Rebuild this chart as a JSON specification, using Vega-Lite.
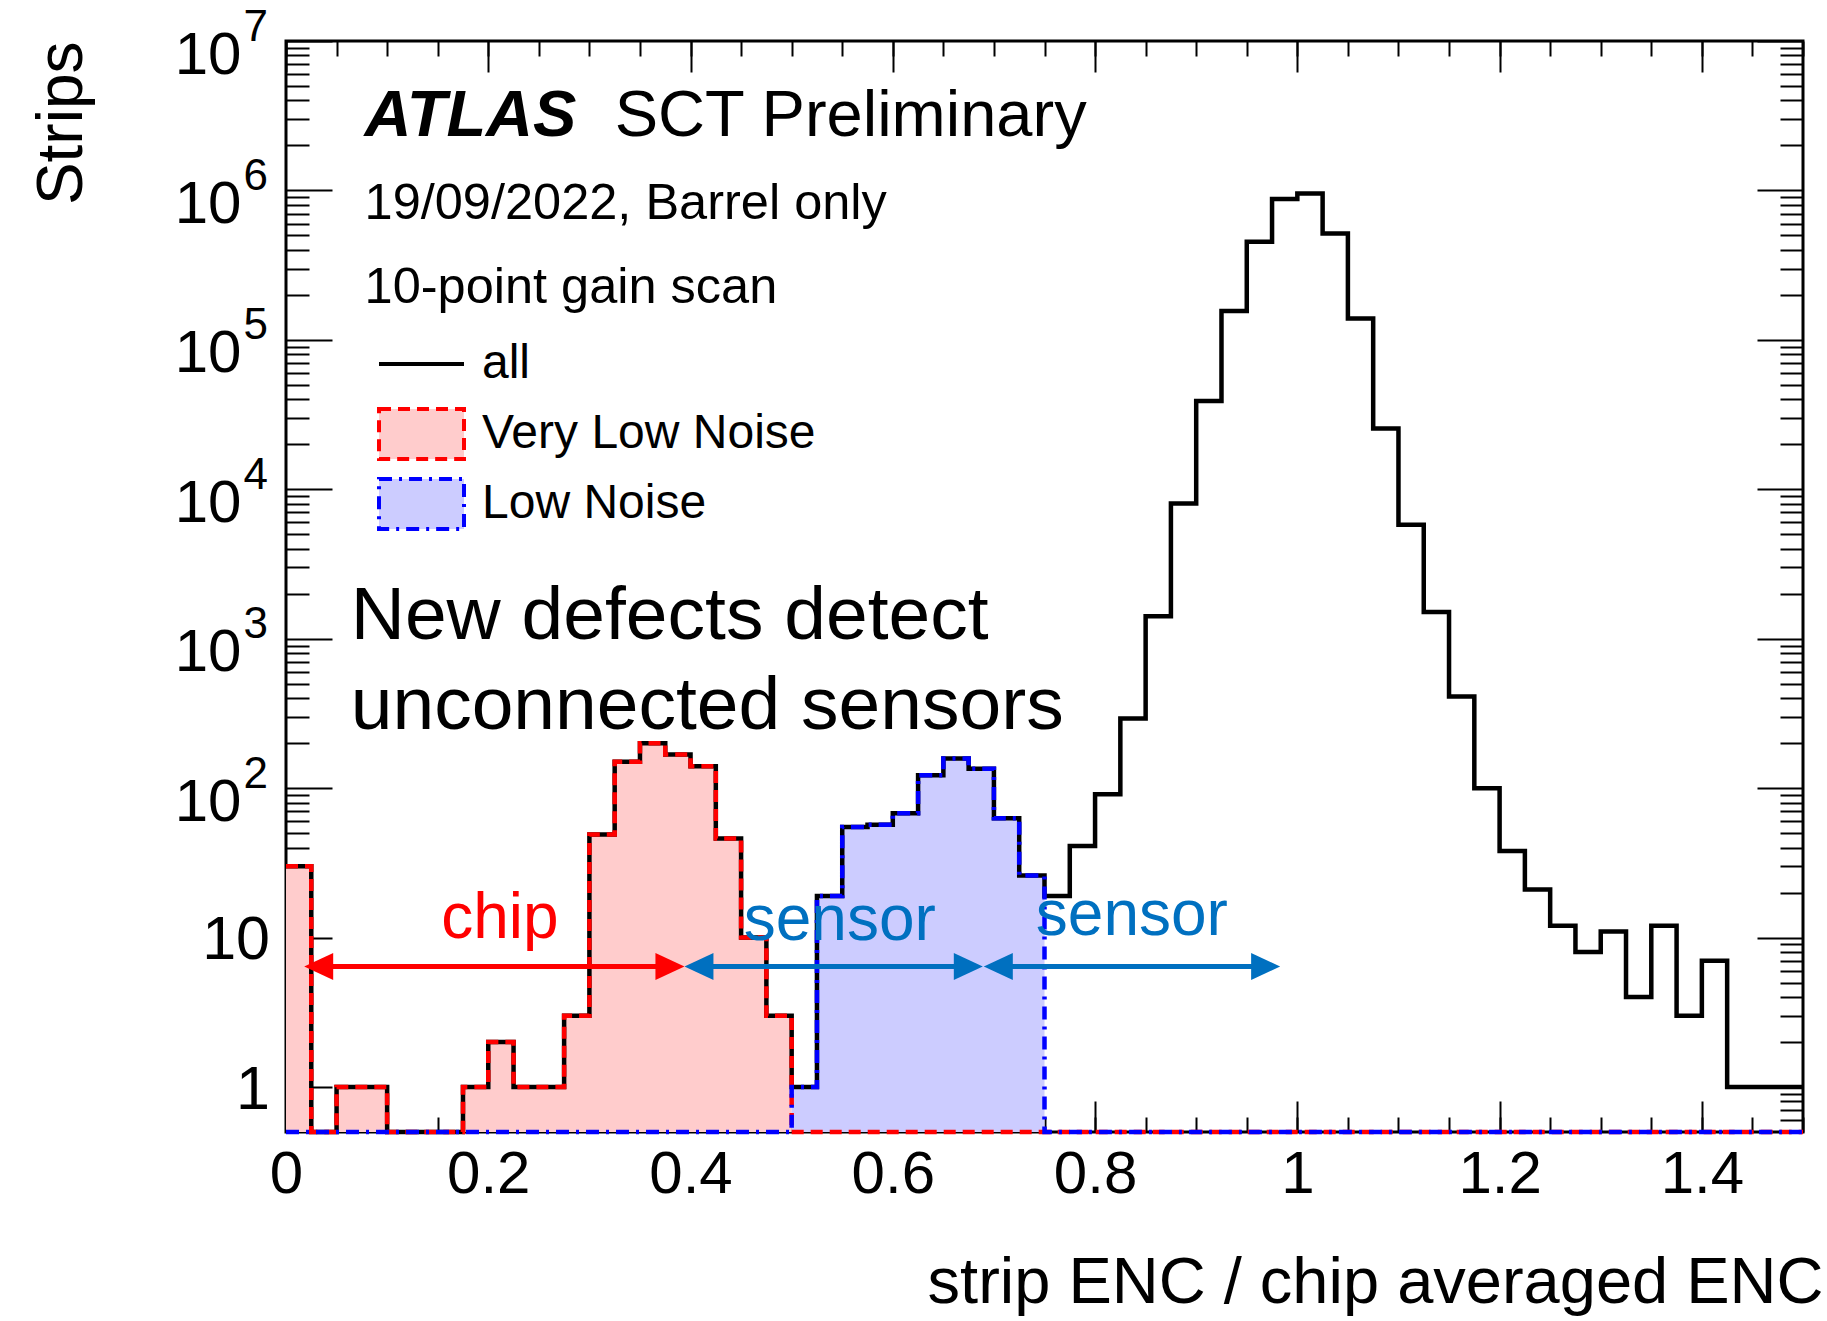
{
  "$schema": "https://vega.github.io/schema/vega-lite/v6.json",
  "width": 1517,
  "height": 1091,
  "autosize": {"type": "none"},
  "padding": {"left": 286, "top": 41, "right": 24, "bottom": 189},
  "background": "white",
  "config": {
    "font": "Liberation Sans",
    "view": {"stroke": "black", "strokeWidth": 3},
    "axis": {"domain": false, "grid": false, "labels": false, "tickColor": "black", "tickWidth": 2, "labelColor": "black", "labelFont": "Liberation Sans", "titleColor": "black", "titleFont": "Liberation Sans", "titleFontWeight": "normal", "labelFlush": false, "labelOverlap": false, "zindex": 1}
  },
  "datasets": {
    "hist": [
      {"lo": 0, "all": 30, "Very Low Noise": 30, "Low Noise": 0},
      {"lo": 0.025, "all": 0, "Very Low Noise": 0, "Low Noise": 0},
      {"lo": 0.05, "all": 1, "Very Low Noise": 1, "Low Noise": 0},
      {"lo": 0.075, "all": 1, "Very Low Noise": 1, "Low Noise": 0},
      {"lo": 0.1, "all": 0, "Very Low Noise": 0, "Low Noise": 0},
      {"lo": 0.125, "all": 0, "Very Low Noise": 0, "Low Noise": 0},
      {"lo": 0.15, "all": 0, "Very Low Noise": 0, "Low Noise": 0},
      {"lo": 0.175, "all": 1, "Very Low Noise": 1, "Low Noise": 0},
      {"lo": 0.2, "all": 2, "Very Low Noise": 2, "Low Noise": 0},
      {"lo": 0.225, "all": 1, "Very Low Noise": 1, "Low Noise": 0},
      {"lo": 0.25, "all": 1, "Very Low Noise": 1, "Low Noise": 0},
      {"lo": 0.275, "all": 3, "Very Low Noise": 3, "Low Noise": 0},
      {"lo": 0.3, "all": 49, "Very Low Noise": 49, "Low Noise": 0},
      {"lo": 0.325, "all": 150, "Very Low Noise": 150, "Low Noise": 0},
      {"lo": 0.35, "all": 200, "Very Low Noise": 200, "Low Noise": 0},
      {"lo": 0.375, "all": 168, "Very Low Noise": 168, "Low Noise": 0},
      {"lo": 0.4, "all": 140, "Very Low Noise": 140, "Low Noise": 0},
      {"lo": 0.425, "all": 46, "Very Low Noise": 46, "Low Noise": 0},
      {"lo": 0.45, "all": 10, "Very Low Noise": 10, "Low Noise": 0},
      {"lo": 0.475, "all": 3, "Very Low Noise": 3, "Low Noise": 0},
      {"lo": 0.5, "all": 1, "Very Low Noise": 0, "Low Noise": 1},
      {"lo": 0.525, "all": 19, "Very Low Noise": 0, "Low Noise": 19},
      {"lo": 0.55, "all": 55, "Very Low Noise": 0, "Low Noise": 55},
      {"lo": 0.575, "all": 57, "Very Low Noise": 0, "Low Noise": 57},
      {"lo": 0.6, "all": 68, "Very Low Noise": 0, "Low Noise": 68},
      {"lo": 0.625, "all": 122, "Very Low Noise": 0, "Low Noise": 122},
      {"lo": 0.65, "all": 158, "Very Low Noise": 0, "Low Noise": 158},
      {"lo": 0.675, "all": 135, "Very Low Noise": 0, "Low Noise": 135},
      {"lo": 0.7, "all": 63, "Very Low Noise": 0, "Low Noise": 63},
      {"lo": 0.725, "all": 26, "Very Low Noise": 0, "Low Noise": 26},
      {"lo": 0.75, "all": 19, "Very Low Noise": 0, "Low Noise": 0},
      {"lo": 0.775, "all": 41, "Very Low Noise": 0, "Low Noise": 0},
      {"lo": 0.8, "all": 91, "Very Low Noise": 0, "Low Noise": 0},
      {"lo": 0.825, "all": 293, "Very Low Noise": 0, "Low Noise": 0},
      {"lo": 0.85, "all": 1414, "Very Low Noise": 0, "Low Noise": 0},
      {"lo": 0.875, "all": 8040, "Very Low Noise": 0, "Low Noise": 0},
      {"lo": 0.9, "all": 39000, "Very Low Noise": 0, "Low Noise": 0},
      {"lo": 0.925, "all": 156000, "Very Low Noise": 0, "Low Noise": 0},
      {"lo": 0.95, "all": 454000, "Very Low Noise": 0, "Low Noise": 0},
      {"lo": 0.975, "all": 877000, "Very Low Noise": 0, "Low Noise": 0},
      {"lo": 1, "all": 953000, "Very Low Noise": 0, "Low Noise": 0},
      {"lo": 1.025, "all": 514000, "Very Low Noise": 0, "Low Noise": 0},
      {"lo": 1.05, "all": 139000, "Very Low Noise": 0, "Low Noise": 0},
      {"lo": 1.075, "all": 25500, "Very Low Noise": 0, "Low Noise": 0},
      {"lo": 1.1, "all": 5780, "Very Low Noise": 0, "Low Noise": 0},
      {"lo": 1.125, "all": 1510, "Very Low Noise": 0, "Low Noise": 0},
      {"lo": 1.15, "all": 410, "Very Low Noise": 0, "Low Noise": 0},
      {"lo": 1.175, "all": 100, "Very Low Noise": 0, "Low Noise": 0},
      {"lo": 1.2, "all": 38, "Very Low Noise": 0, "Low Noise": 0},
      {"lo": 1.225, "all": 21, "Very Low Noise": 0, "Low Noise": 0},
      {"lo": 1.25, "all": 12, "Very Low Noise": 0, "Low Noise": 0},
      {"lo": 1.275, "all": 8, "Very Low Noise": 0, "Low Noise": 0},
      {"lo": 1.3, "all": 11, "Very Low Noise": 0, "Low Noise": 0},
      {"lo": 1.325, "all": 4, "Very Low Noise": 0, "Low Noise": 0},
      {"lo": 1.35, "all": 12, "Very Low Noise": 0, "Low Noise": 0},
      {"lo": 1.375, "all": 3, "Very Low Noise": 0, "Low Noise": 0},
      {"lo": 1.4, "all": 7, "Very Low Noise": 0, "Low Noise": 0},
      {"lo": 1.425, "all": 1, "Very Low Noise": 0, "Low Noise": 0},
      {"lo": 1.45, "all": 1, "Very Low Noise": 0, "Low Noise": 0},
      {"lo": 1.475, "all": 1, "Very Low Noise": 0, "Low Noise": 0},
      {"lo": 1.5, "all": 1, "Very Low Noise": 0, "Low Noise": 0}
    ]
  },
  "data": {"name": "hist"},
  "resolve": {"scale": {"x": "shared", "y": "shared"}, "axis": {"x": "independent", "y": "independent"}},
  "layer": [
    {
      "mark": {"type": "area", "interpolate": "step-after", "color": "#ffcccc", "invalid": null},
      "encoding": {
        "x": {"field": "lo", "type": "quantitative", "scale": {"domain": [0, 1.5], "nice": false, "zero": false},
          "axis": {"orient": "bottom", "values": [0, 0.2, 0.4, 0.6, 0.8, 1, 1.2, 1.4], "format": "~g", "tickSize": -31, "labels": true, "labelFontSize": 60, "labelPadding": 44.6, "labelBaseline": "top", "title": "strip ENC / chip averaged ENC", "titleFontSize": 65, "titleX": 1537, "titleY": 170, "titleAlign": "right", "titleBaseline": "alphabetic", "titleAnchor": "end"}},
        "y": {"field": "Very Low Noise", "type": "quantitative", "scale": {"type": "log", "domain": [0.5, 10000000], "nice": false, "clamp": true},
          "axis": {"orient": "left", "values": [1, 10, 100, 1000, 10000, 100000, 1000000, 10000000], "tickSize": -46, "labels": true, "labelExpr": "datum.value >= 10 ? '10' : '1'",
            "labelFontSize": {"condition": {"test": "datum.value >= 100", "value": 60}, "value": 61},
            "labelPadding": {"condition": {"test": "datum.value >= 100", "value": 91}, "value": 62.5},
            "labelOffset": {"condition": {"test": "datum.value >= 100", "value": 14}, "value": 3},
            "labelAlign": "right", "labelBaseline": "middle",
            "title": "Strips", "titleFontSize": 64, "titleAngle": -90, "titleX": -192, "titleY": 0, "titleAlign": "right", "titleBaseline": "bottom"}},
        "y2": {"datum": 0.5}
      }
    },
    {
      "mark": {"type": "area", "interpolate": "step-after", "color": "#ccccff", "invalid": null},
      "encoding": {
        "x": {"field": "lo", "type": "quantitative", "scale": {"domain": [0, 1.5], "nice": false, "zero": false},
          "axis": {"orient": "bottom", "values": [0, 0.05, 0.1, 0.15, 0.2, 0.25, 0.3, 0.35, 0.4, 0.45, 0.5, 0.55, 0.6, 0.65, 0.7, 0.75, 0.8, 0.85, 0.9, 0.95, 1, 1.05, 1.1, 1.15, 1.2, 1.25, 1.3, 1.35, 1.4, 1.45, 1.5], "tickSize": -15, "title": null}},
        "y": {"field": "Low Noise", "type": "quantitative", "scale": {"type": "log", "domain": [0.5, 10000000], "nice": false, "clamp": true},
          "axis": {"orient": "left", "values": [0.6, 0.7, 0.8, 0.9, 2, 3, 4, 5, 6, 7, 8, 9, 20, 30, 40, 50, 60, 70, 80, 90, 200, 300, 400, 500, 600, 700, 800, 900, 2000, 3000, 4000, 5000, 6000, 7000, 8000, 9000, 20000, 30000, 40000, 50000, 60000, 70000, 80000, 90000, 200000, 300000, 400000, 500000, 600000, 700000, 800000, 900000, 2000000, 3000000, 4000000, 5000000, 6000000, 7000000, 8000000, 9000000], "tickSize": -23, "title": null}},
        "y2": {"datum": 0.5}
      }
    },
    {
      "transform": [{"fold": ["all", "Very Low Noise", "Low Noise"], "as": ["series", "count"]}, {"filter": "datum.series === 'all'"}],
      "mark": {"type": "line", "interpolate": "step-after", "strokeWidth": 4.5, "invalid": null},
      "encoding": {
        "x": {"field": "lo", "type": "quantitative", "scale": {"domain": [0, 1.5], "nice": false, "zero": false},
          "axis": {"orient": "top", "values": [0, 0.2, 0.4, 0.6, 0.8, 1, 1.2, 1.4], "tickSize": -31, "title": null}},
        "y": {"field": "count", "type": "quantitative", "scale": {"type": "log", "domain": [0.5, 10000000], "nice": false, "clamp": true},
          "axis": {"orient": "right", "values": [1, 10, 100, 1000, 10000, 100000, 1000000, 10000000], "tickSize": -46, "title": null}},
        "color": {"field": "series", "type": "nominal",
          "scale": {"domain": ["all", "Very Low Noise", "Low Noise"], "range": ["#000000", "#ff0000", "#0000ff"]},
          "legend": {"orient": "none", "legendX": 91, "legendY": 296, "title": null, "padding": 0, "labelFont": "Liberation Sans", "labelFontSize": 48, "labelColor": "black", "labelOffset": 16, "labelLimit": 800, "symbolSize": 7225, "symbolStrokeWidth": 4, "clipHeight": 54, "rowPadding": 16,
            "encoding": {"symbols": {
              "shape": {"condition": {"test": "datum.value === 'all'", "value": "stroke"}, "value": "M-1,-0.59H1V0.59H-1Z"},
              "fill": {"condition": [{"test": "datum.value === 'Very Low Noise'", "value": "#ffcccc"}, {"test": "datum.value === 'Low Noise'", "value": "#ccccff"}], "value": "transparent"},
              "strokeDash": {"condition": [{"test": "datum.value === 'Very Low Noise'", "value": [12, 7]}, {"test": "datum.value === 'Low Noise'", "value": [13, 7, 3, 7]}], "value": [1, 0]},
              "fillOpacity": {"value": 1},
              "opacity": {"value": 1}
            }}}}
      }
    },
    {
      "transform": [{"fold": ["all", "Very Low Noise", "Low Noise"], "as": ["series", "count"]}, {"filter": "datum.series === 'Very Low Noise'"}],
      "mark": {"type": "line", "interpolate": "step-after", "strokeWidth": 4.5, "strokeDash": [12, 7], "invalid": null},
      "encoding": {
        "x": {"field": "lo", "type": "quantitative", "scale": {"domain": [0, 1.5], "nice": false, "zero": false},
          "axis": {"orient": "top", "values": [0, 0.05, 0.1, 0.15, 0.2, 0.25, 0.3, 0.35, 0.4, 0.45, 0.5, 0.55, 0.6, 0.65, 0.7, 0.75, 0.8, 0.85, 0.9, 0.95, 1, 1.05, 1.1, 1.15, 1.2, 1.25, 1.3, 1.35, 1.4, 1.45, 1.5], "tickSize": -15, "title": null}},
        "y": {"field": "count", "type": "quantitative", "scale": {"type": "log", "domain": [0.5, 10000000], "nice": false, "clamp": true},
          "axis": {"orient": "right", "values": [0.6, 0.7, 0.8, 0.9, 2, 3, 4, 5, 6, 7, 8, 9, 20, 30, 40, 50, 60, 70, 80, 90, 200, 300, 400, 500, 600, 700, 800, 900, 2000, 3000, 4000, 5000, 6000, 7000, 8000, 9000, 20000, 30000, 40000, 50000, 60000, 70000, 80000, 90000, 200000, 300000, 400000, 500000, 600000, 700000, 800000, 900000, 2000000, 3000000, 4000000, 5000000, 6000000, 7000000, 8000000, 9000000], "tickSize": -23, "title": null}},
        "color": {"field": "series", "type": "nominal", "scale": {"domain": ["all", "Very Low Noise", "Low Noise"], "range": ["#000000", "#ff0000", "#0000ff"]}, "legend": null}
      }
    },
    {
      "transform": [{"fold": ["all", "Very Low Noise", "Low Noise"], "as": ["series", "count"]}, {"filter": "datum.series === 'Low Noise'"}],
      "mark": {"type": "line", "interpolate": "step-after", "strokeWidth": 4.5, "strokeDash": [13, 7, 3, 7], "invalid": null},
      "encoding": {
        "x": {"field": "lo", "type": "quantitative", "scale": {"domain": [0, 1.5], "nice": false, "zero": false}, "axis": null},
        "y": {"field": "count", "type": "quantitative", "scale": {"type": "log", "domain": [0.5, 10000000], "nice": false, "clamp": true},
          "axis": {"orient": "left", "values": [100, 1000, 10000, 100000, 1000000, 10000000], "ticks": false, "tickSize": 0, "labels": true, "labelExpr": "'' + round(log(datum.value) / LN10)", "labelFontSize": 44, "labelPadding": 18.5, "labelOffset": -14, "labelAlign": "right", "labelBaseline": "middle", "title": null}},
        "color": {"field": "series", "type": "nominal", "scale": {"domain": ["all", "Very Low Noise", "Low Noise"], "range": ["#000000", "#ff0000", "#0000ff"]}, "legend": null}
      }
    },
    {
      "data": {"values": [{}]},
      "mark": {"type": "text", "text": "ATLAS", "fontSize": 65, "fontWeight": "bold", "fontStyle": "italic", "align": "left", "baseline": "alphabetic", "color": "black"},
      "encoding": {
        "x": {"datum": 0.0777, "type": "quantitative", "axis": null},
        "y": {"datum": 2296000, "type": "quantitative", "axis": null}
      }
    },
    {
      "data": {"values": [{}]},
      "mark": {"type": "text", "text": "SCT Preliminary", "fontSize": 65, "align": "left", "baseline": "alphabetic", "color": "black"},
      "encoding": {
        "x": {"datum": 0.325, "type": "quantitative", "axis": null},
        "y": {"datum": 2296000, "type": "quantitative", "axis": null}
      }
    },
    {
      "data": {"values": [{}]},
      "mark": {"type": "text", "text": "19/09/2022, Barrel only", "fontSize": 50.5, "align": "left", "baseline": "alphabetic", "color": "black"},
      "encoding": {
        "x": {"datum": 0.0777, "type": "quantitative", "axis": null},
        "y": {"datum": 644000, "type": "quantitative", "axis": null}
      }
    },
    {
      "data": {"values": [{}]},
      "mark": {"type": "text", "text": "10-point gain scan", "fontSize": 50.5, "align": "left", "baseline": "alphabetic", "color": "black"},
      "encoding": {
        "x": {"datum": 0.0777, "type": "quantitative", "axis": null},
        "y": {"datum": 176600, "type": "quantitative", "axis": null}
      }
    },
    {
      "data": {"values": [{}]},
      "mark": {"type": "text", "text": ["New defects detect", "unconnected sensors"], "lineHeight": 90, "fontSize": 75, "align": "left", "baseline": "alphabetic", "color": "black"},
      "encoding": {
        "x": {"datum": 0.064, "type": "quantitative", "axis": null},
        "y": {"datum": 995, "type": "quantitative", "axis": null}
      }
    },
    {
      "data": {"values": [{}]},
      "mark": {"type": "text", "text": "chip", "fontSize": 64, "align": "left", "baseline": "alphabetic", "color": "#ff0000"},
      "encoding": {
        "x": {"datum": 0.1534, "type": "quantitative", "axis": null},
        "y": {"datum": 9.93, "type": "quantitative", "axis": null}
      }
    },
    {
      "data": {"values": [{}]},
      "mark": {"type": "text", "text": "sensor", "fontSize": 64, "align": "left", "baseline": "alphabetic", "color": "#0070c0"},
      "encoding": {
        "x": {"datum": 0.4526, "type": "quantitative", "axis": null},
        "y": {"datum": 9.63, "type": "quantitative", "axis": null}
      }
    },
    {
      "data": {"values": [{}]},
      "mark": {"type": "text", "text": "sensor", "fontSize": 64, "align": "left", "baseline": "alphabetic", "color": "#0070c0"},
      "encoding": {
        "x": {"datum": 0.7414, "type": "quantitative", "axis": null},
        "y": {"datum": 10.4, "type": "quantitative", "axis": null}
      }
    },
    {
      "data": {"values": [{}]},
      "mark": {"type": "rule", "color": "#ff0000", "strokeWidth": 5},
      "encoding": {
        "x": {"datum": 0.03, "type": "quantitative", "axis": null},
        "x2": {"datum": 0.382},
        "y": {"datum": 6.4, "type": "quantitative", "axis": null}
      }
    },
    {
      "data": {"values": [{}]},
      "mark": {"type": "rule", "color": "#0070c0", "strokeWidth": 5},
      "encoding": {
        "x": {"datum": 0.405, "type": "quantitative", "axis": null},
        "x2": {"datum": 0.678},
        "y": {"datum": 6.4, "type": "quantitative", "axis": null}
      }
    },
    {
      "data": {"values": [{}]},
      "mark": {"type": "rule", "color": "#0070c0", "strokeWidth": 5},
      "encoding": {
        "x": {"datum": 0.701, "type": "quantitative", "axis": null},
        "x2": {"datum": 0.972},
        "y": {"datum": 6.4, "type": "quantitative", "axis": null}
      }
    },
    {
      "data": {"values": [{}]},
      "mark": {"type": "point", "shape": "M0,0L2,-0.93L2,0.93Z", "size": 841, "filled": true, "color": "#ff0000", "opacity": 1, "strokeWidth": 0},
      "encoding": {
        "x": {"datum": 0.018, "type": "quantitative", "axis": null},
        "y": {"datum": 6.4, "type": "quantitative", "axis": null}
      }
    },
    {
      "data": {"values": [{}]},
      "mark": {"type": "point", "shape": "M0,0L-2,-0.93L-2,0.93Z", "size": 841, "filled": true, "color": "#ff0000", "opacity": 1, "strokeWidth": 0},
      "encoding": {
        "x": {"datum": 0.394, "type": "quantitative", "axis": null},
        "y": {"datum": 6.4, "type": "quantitative", "axis": null}
      }
    },
    {
      "data": {"values": [{}]},
      "mark": {"type": "point", "shape": "M0,0L2,-0.93L2,0.93Z", "size": 841, "filled": true, "color": "#0070c0", "opacity": 1, "strokeWidth": 0},
      "encoding": {
        "x": {"datum": 0.394, "type": "quantitative", "axis": null},
        "y": {"datum": 6.4, "type": "quantitative", "axis": null}
      }
    },
    {
      "data": {"values": [{}]},
      "mark": {"type": "point", "shape": "M0,0L-2,-0.93L-2,0.93Z", "size": 841, "filled": true, "color": "#0070c0", "opacity": 1, "strokeWidth": 0},
      "encoding": {
        "x": {"datum": 0.689, "type": "quantitative", "axis": null},
        "y": {"datum": 6.4, "type": "quantitative", "axis": null}
      }
    },
    {
      "data": {"values": [{}]},
      "mark": {"type": "point", "shape": "M0,0L2,-0.93L2,0.93Z", "size": 841, "filled": true, "color": "#0070c0", "opacity": 1, "strokeWidth": 0},
      "encoding": {
        "x": {"datum": 0.69, "type": "quantitative", "axis": null},
        "y": {"datum": 6.4, "type": "quantitative", "axis": null}
      }
    },
    {
      "data": {"values": [{}]},
      "mark": {"type": "point", "shape": "M0,0L-2,-0.93L-2,0.93Z", "size": 841, "filled": true, "color": "#0070c0", "opacity": 1, "strokeWidth": 0},
      "encoding": {
        "x": {"datum": 0.983, "type": "quantitative", "axis": null},
        "y": {"datum": 6.4, "type": "quantitative", "axis": null}
      }
    }
  ]
}
